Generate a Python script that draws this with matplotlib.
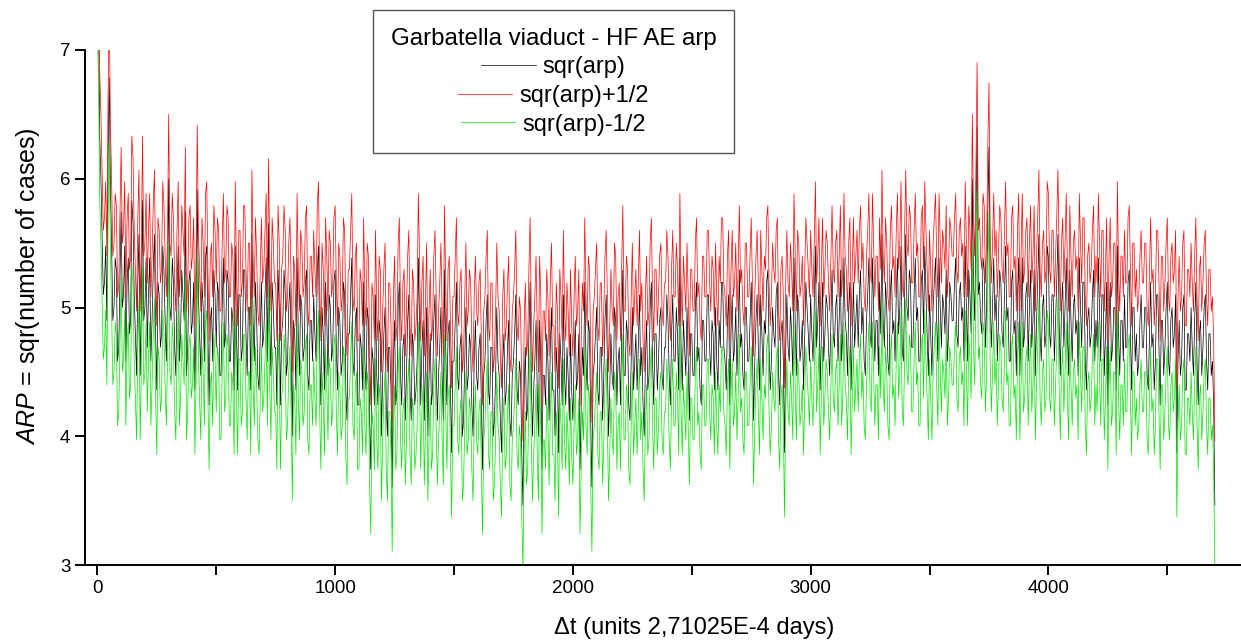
import numpy as np
import matplotlib.pyplot as plt

plt.rcParams["font.family"] = ["Liberation Sans", "DejaVu Sans"]
plt.rcParams["mathtext.fontset"] = "custom"
plt.rcParams["mathtext.rm"] = "Liberation Sans"
plt.rcParams["mathtext.it"] = "Liberation Sans:italic"

# number of cases per time bin, one value every 5 units of dt (100 units per row)
t_step = 5
arp_counts = [
    60, 52, 40, 36, 31, 26, 27, 30, 24, 38, 46, 35, 30, 24, 25, 29, 28, 21, 22, 27,
    33, 25, 26, 30, 21, 27, 29, 23, 24, 34, 32, 26, 23, 20, 27, 31, 20, 25, 34, 24,
    25, 29, 22, 26, 29, 21, 24, 28, 31, 23, 19, 27, 26, 22, 23, 30, 28, 24, 21, 26,
    36, 25, 24, 29, 27, 22, 20, 26, 30, 21, 23, 28, 26, 24, 33, 20, 22, 27, 28, 23,
    24, 27, 19, 24, 35, 26, 23, 20, 27, 25, 21, 29, 30, 23, 18, 24, 25, 21, 28, 26,
    22, 27, 26, 20, 20, 25, 29, 22, 23, 28, 27, 21, 21, 25, 24, 19, 30, 23, 19, 26,
    26, 21, 22, 28, 28, 23, 20, 25, 25, 19, 31, 24, 21, 27, 24, 20, 19, 23, 27, 22,
    23, 26, 29, 21, 32, 24, 20, 27, 25, 22, 22, 18, 28, 25, 18, 23, 24, 28, 26, 20,
    21, 25, 27, 22, 16, 24, 23, 19, 29, 23, 20, 26, 25, 21, 22, 27, 28, 20, 19, 24,
    24, 21, 26, 23, 21, 28, 30, 22, 18, 25, 23, 19, 27, 24, 20, 26, 25, 21, 22, 27,
    28, 22, 19, 25, 24, 20, 21, 27, 26, 19, 17, 23, 23, 26, 29, 21, 20, 24, 25, 18,
    18, 23, 22, 19, 27, 21, 19, 25, 24, 17, 14, 22, 21, 18, 26, 20, 18, 24, 23, 16,
    20, 23, 25, 18, 16, 22, 22, 19, 13, 21, 24, 18, 19, 25, 27, 20, 18, 22, 23, 17,
    20, 24, 26, 19, 17, 23, 22, 18, 19, 21, 29, 24, 18, 22, 24, 17, 21, 25, 16, 20,
    23, 18, 19, 24, 26, 21, 17, 20, 22, 25, 20, 17, 28, 22, 18, 23, 24, 19, 15, 21,
    21, 24, 27, 20, 19, 22, 23, 16, 17, 21, 25, 19, 20, 23, 22, 18, 16, 21, 24, 20,
    19, 22, 23, 18, 14, 20, 21, 24, 26, 19, 18, 22, 22, 16, 17, 20, 25, 21, 20, 17,
    15, 21, 23, 18, 19, 22, 24, 17, 16, 20, 21, 23, 26, 19, 18, 21, 20, 15, 12, 19,
    22, 17, 18, 23, 27, 20, 16, 19, 21, 24, 19, 16, 24, 21, 14, 20, 20, 18, 23, 21,
    17, 22, 25, 19, 19, 16, 22, 20, 15, 23, 21, 18, 26, 20, 18, 22, 20, 17, 23, 19,
    17, 21, 24, 19, 20, 23, 14, 18, 22, 20, 27, 21, 19, 24, 23, 17, 13, 20, 21, 23,
    25, 19, 18, 22, 22, 17, 20, 24, 26, 21, 16, 19, 23, 20, 19, 25, 24, 18, 21, 22,
    18, 23, 28, 20, 20, 24, 23, 18, 17, 21, 25, 19, 21, 23, 19, 22, 26, 20, 22, 18,
    16, 21, 24, 19, 20, 25, 27, 21, 18, 23, 23, 19, 21, 24, 25, 20, 19, 22, 22, 26,
    24, 20, 18, 23, 26, 21, 21, 25, 23, 19, 29, 22, 19, 24, 22, 20, 25, 21, 17, 23,
    23, 20, 20, 25, 27, 21, 22, 19, 18, 24, 24, 21, 21, 26, 26, 22, 20, 24, 23, 19,
    25, 21, 19, 24, 22, 27, 27, 22, 21, 19, 24, 26, 18, 23, 26, 21, 22, 25, 20, 23,
    28, 22, 23, 20, 19, 25, 25, 21, 21, 24, 27, 22, 17, 21, 24, 26, 22, 19, 26, 23,
    20, 24, 23, 27, 28, 22, 19, 21, 25, 23, 22, 26, 27, 20, 18, 23, 24, 21, 15, 22,
    26, 22, 21, 25, 23, 20, 29, 24, 20, 26, 25, 21, 22, 24, 19, 23, 27, 25, 23, 21,
    26, 23, 21, 25, 30, 22, 24, 27, 19, 23, 27, 21, 23, 26, 25, 22, 20, 24, 28, 23,
    22, 25, 26, 21, 24, 28, 21, 23, 29, 24, 23, 20, 25, 27, 19, 23, 27, 22, 24, 26,
    22, 26, 28, 23, 25, 21, 20, 24, 26, 29, 23, 22, 29, 25, 21, 24, 24, 20, 27, 23,
    31, 24, 22, 27, 25, 21, 20, 26, 28, 23, 24, 21, 26, 29, 23, 25, 30, 22, 21, 26,
    31, 25, 24, 28, 27, 22, 22, 26, 29, 24, 25, 21, 21, 27, 28, 23, 30, 26, 23, 20,
    26, 23, 20, 25, 27, 29, 24, 21, 29, 25, 22, 26, 25, 23, 28, 21, 23, 27, 26, 24,
    24, 27, 29, 23, 22, 26, 27, 24, 25, 21, 30, 25, 21, 28, 26, 23, 36, 27, 24, 31,
    41, 26, 27, 24, 23, 29, 28, 22, 25, 33, 39, 26, 22, 25, 29, 24, 26, 21, 24, 28,
    27, 23, 22, 26, 30, 24, 25, 21, 21, 27, 28, 23, 24, 20, 26, 29, 20, 24, 29, 22,
    23, 26, 27, 21, 25, 28, 22, 24, 28, 20, 24, 27, 31, 23, 21, 25, 26, 22, 23, 30,
    29, 23, 22, 26, 26, 21, 24, 27, 31, 24, 20, 25, 27, 22, 25, 29, 23, 20, 28, 24,
    21, 25, 26, 23, 24, 20, 29, 25, 22, 27, 27, 21, 19, 24, 25, 22, 23, 26, 28, 21,
    24, 22, 29, 25, 21, 26, 26, 20, 23, 27, 18, 24, 27, 21, 22, 25, 25, 19, 30, 23,
    20, 24, 24, 21, 26, 22, 22, 27, 28, 23, 19, 25, 25, 21, 23, 20, 21, 24, 26, 22,
    22, 25, 25, 20, 19, 23, 27, 22, 23, 19, 21, 26, 26, 22, 18, 24, 24, 20, 22, 25,
    27, 21, 20, 24, 25, 22, 23, 26, 15, 21, 24, 20, 21, 25, 26, 19, 19, 23, 23, 21,
    25, 22, 20, 24, 27, 21, 18, 23, 24, 20, 22, 25, 26, 21, 19, 23, 23, 20, 21, 18,
    12,
]
x_ticks = [0, 1000, 2000, 3000, 4000]
x_minor = [500, 1500, 2500, 3500, 4500]
y_ticks = [3, 4, 5, 6, 7]

t = np.arange(len(arp_counts)) * t_step
sqr_arp = np.sqrt(arp_counts)

fig = plt.figure(figsize=(12.41, 6.42), dpi=100)
ax = fig.add_axes([85 / 1241, 1 - 565 / 642, 1 - 85 / 1241, 515 / 642])

ax.plot(t, sqr_arp, color="black", lw=0.5, label="sqr(arp)")
ax.plot(t, sqr_arp + 0.5, color="#ff0000", lw=0.5, label="sqr(arp)+1/2")
ax.plot(t, sqr_arp - 0.5, color="#00e600", lw=0.5, label="sqr(arp)-1/2")

ax.set_xlim(-52, 4810)
ax.set_ylim(3, 7)
ax.set_xticks(x_ticks)
ax.set_xticks(x_minor, minor=True)
ax.set_yticks(y_ticks)
ax.tick_params(which="both", direction="out", length=7, width=1.4, labelsize=13.5)
for side in ["top", "right"]:
    ax.spines[side].set_visible(False)
for side in ["left", "bottom"]:
    ax.spines[side].set_linewidth(1.4)

ax.set_xlabel("\u0394t (units 2,71025E-4 days)", fontsize=17, x=(694 - 85) / (1241 - 85), labelpad=15)
ax.set_ylabel(r"$\it{ARP}$ = sqr(number of cases)", fontsize=18, y=(565 - 286) / 515, labelpad=13)

leg = ax.legend(
    loc="upper left",
    bbox_to_anchor=(373 / 1241, 1 - 10 / 642),
    bbox_transform=fig.transFigure,
    borderaxespad=0,
    title="Garbatella viaduct - HF AE arp",
    fontsize=17,
    title_fontsize=17.3,
    fancybox=False,
    framealpha=1,
    edgecolor="#555555",
    handlelength=2.3,
    handletextpad=0.3,
    labelspacing=0.28,
    borderpad=0.75,
)
leg.get_frame().set_linewidth(1.0)
for col in leg._legend_handle_box.get_children():
    col.align = "center"

fig.savefig("out.png", dpi=100)
